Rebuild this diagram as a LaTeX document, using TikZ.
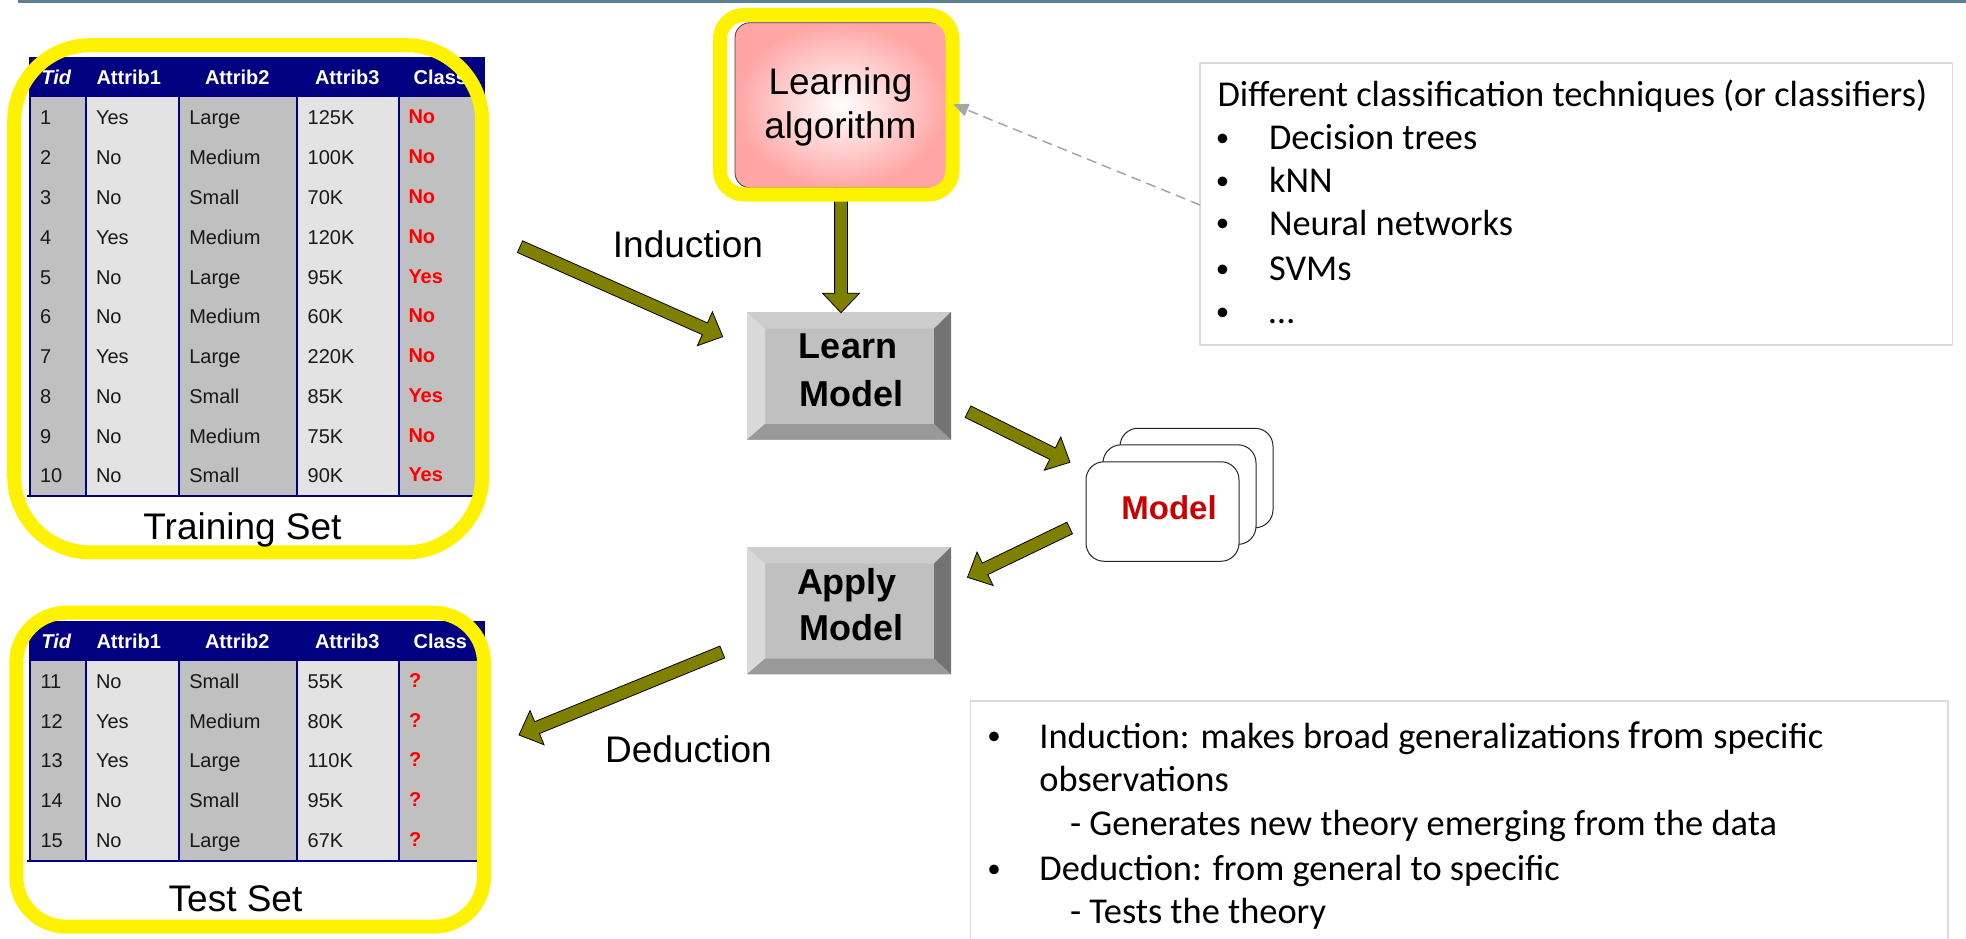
\documentclass[tikz,border=0pt]{standalone}
\usepackage{fontspec}
\setmainfont{Liberation Sans}
\newfontfamily\calib{Carlito}
\usetikzlibrary{calc,arrows.meta}
\definecolor{navyb}{HTML}{000080}
\definecolor{cellg}{HTML}{C0C0C0}
\definecolor{celll}{HTML}{E3E3E3}
\definecolor{olivea}{HTML}{808000}
\definecolor{pinka}{HTML}{FFA5A5}
\definecolor{barb}{HTML}{5B7F95}
\definecolor{frameg}{HTML}{DCDCDC}
\definecolor{dashg}{HTML}{A6A6A6}
\definecolor{redm}{HTML}{CC0000}
\tikzset{
  x=1pt,y=-1pt,
  every node/.style={inner sep=0pt,outer sep=0pt},
  cell/.style={anchor=base west,font=\fontsize{20}{24}\selectfont,text=black!90},
  classcell/.style={anchor=base west,font=\fontsize{20}{24}\selectfont\bfseries,text=red},
  headcell/.style={anchor=base west,font=\fontsize{20}{24}\selectfont\bfseries,text=white},
  bigtext/.style={anchor=base,font=\fontsize{37}{44}\selectfont},
  btntext/.style={anchor=base,font=\fontsize{36}{42}\selectfont\bfseries},
  yframe/.style={draw=yellow,line width=14pt,fill=none},
  btn/.style={fill=cellg},
  stackcard/.style={draw=black!85,fill=white,line width=1pt,rounded corners=18pt,minimum width=153pt,minimum height=99.5pt},
  blockarrow/.style={fill=olivea,draw=black,line width=0.8pt,line join=miter},
  greybox/.style={draw=frameg,fill=white,line width=1.5pt},
  caltext/.style={anchor=base west,font=\calib\fontsize{36.4}{42}\selectfont},
  calbul/.style={anchor=base,font=\calib\fontsize{27}{32}\selectfont},
}
\newcommand\blockarrow[2]{%
  \coordinate (H) at ($(#2)!19.5pt!(#1)$);
  \draw[blockarrow] ($(#1)!6.4pt!90:(#2)$) -- ($(H)!6.4pt!90:(#2)$) -- ($(H)!18.5pt!90:(#2)$) -- (#2)
    -- ($(H)!18.5pt!-90:(#2)$) -- ($(H)!6.4pt!-90:(#2)$) -- ($(#1)!6.4pt!-90:(#2)$) -- cycle;
}
\newcommand\bevel[1]{%
  \path (#1.north west) ++(18,16.7) coordinate (#1i1);
  \path (#1.north east) ++(-17,16.7) coordinate (#1i2);
  \path (#1.south east) ++(-17,-15.7) coordinate (#1i3);
  \path (#1.south west) ++(18,-15.7) coordinate (#1i4);
  \fill[color=black!20!white] (#1.north west) -- (#1.north east) -- (#1i2) -- (#1i1) -- cycle;
  \fill[color=black!15!white] (#1.north west) -- (#1i1) -- (#1i4) -- (#1.south west) -- cycle;
  \fill[color=black!55] (#1.north east) -- (#1.south east) -- (#1i3) -- (#1i2) -- cycle;
  \fill[color=black!40] (#1.south west) -- (#1.south east) -- (#1i3) -- (#1i4) -- cycle;
}
\newcommand\tablebg[3]{% top, header bottom, bottom
  \fill[navyb] (28.5,#1) rectangle (484.5,#2);
  \fill[cellg] (30,#2) rectangle (86,#3);
  \fill[celll] (86,#2) rectangle (179,#3);
  \fill[cellg] (179,#2) rectangle (297,#3);
  \fill[celll] (297,#2) rectangle (399,#3);
  \fill[cellg] (399,#2) rectangle (484,#3);
  \foreach \cx in {30,86,179,297,399}{\draw[navyb,line width=1.7pt] (\cx,#2) -- (\cx,#3);}
  \draw[navyb,line width=1.7pt] (27,#3) -- (484,#3);
}
\newcommand\tablehead[2]{% prefix, baseline
  \node[headcell,font=\fontsize{20}{24}\selectfont\bfseries\itshape] (#1h0) at (41.5,#2) {Tid};
  \node[headcell] (#1h1) at (96.5,#2) {Attrib1};
  \node[headcell] (#1h2) at (205,#2) {Attrib2};
  \node[headcell] (#1h3) at (315,#2) {Attrib3};
  \node[headcell] (#1h4) at (413.7,#2) {Class};
}
\begin{document}
\begin{tikzpicture}
\useasboundingbox (0,0) rectangle (1966,939);
\fill[white] (0,0) rectangle (1966,939);
\fill[barb] (18,0) rectangle (1966,2.6);

% training table
\tablebg{57.3}{97}{496}
\tablehead{tr}{85}
\foreach \t/\a/\b/\c/\k [count=\i from 0] in {1/Yes/Large/125K/No,2/No/Medium/100K/No,3/No/Small/70K/No,4/Yes/Medium/120K/No,5/No/Large/95K/Yes,6/No/Medium/60K/No,7/Yes/Large/220K/No,8/No/Small/85K/Yes,9/No/Medium/75K/No,10/No/Small/90K/Yes}{
  \pgfmathsetmacro\yb{125+39.75*\i}
  \pgfmathsetmacro\yk{124+39.75*\i}
  \node[cell] (tr\i t) at (40,\yb) {\t};
  \node[cell] (tr\i a) at (96,\yb) {\a};
  \node[cell] (tr\i b) at (189.3,\yb) {\b};
  \node[cell] (tr\i c) at (307.7,\yb) {\c};
  \node[classcell] (tr\i k) at (408.5,\yk) {\k};
}
\node[yframe,rounded corners=76pt,minimum width=468pt,minimum height=507.2pt] (trainframe) at (248.2,298.8) {};
\node[bigtext] (trainlabel) at (242.5,539.3) {Training Set};

% test table
\tablebg{621}{660.7}{861}
\tablehead{te}{648.3}
\foreach \t/\a/\b/\c [count=\i from 0] in {11/No/Small/55K,12/Yes/Medium/80K,13/Yes/Large/110K,14/No/Small/95K,15/No/Large/67K}{
  \pgfmathsetmacro\yb{688.3+39.75*\i}
  \pgfmathsetmacro\yk{687.3+39.75*\i}
  \node[cell] (te\i t) at (40.5,\yb) {\t};
  \node[cell] (te\i a) at (96,\yb) {\a};
  \node[cell] (te\i b) at (189.3,\yb) {\b};
  \node[cell] (te\i c) at (307.7,\yb) {\c};
  \node[classcell] (te\i k) at (409,\yk) {?};
}
\node[yframe,rounded corners=50pt,minimum width=467.7pt,minimum height=314pt] (testframe) at (250.15,769.7) {};
\node[bigtext] (testlabel) at (235.5,911) {Test Set};

% buttons
\node[btn,minimum width=204pt,minimum height=127.7pt] (learnm) at (849,375.85) {};
\bevel{learnm}
\node[btntext] (lm1) at (848,358.3) {Learn};
\node[btntext] (lm2) at (851.5,406.7) {Model};
\node[btn,minimum width=204pt,minimum height=127.3pt] (applym) at (849,610.65) {};
\bevel{applym}
\node[btntext] (am1) at (847,594) {Apply};
\node[btntext] (am2) at (851.5,640) {Model};

% arrow from learning algorithm, drawn under the yellow frame
\coordinate (va) at (841,185);
\coordinate (vb) at (841,312.7);
\blockarrow{va}{vb}

% learning algorithm
\node[draw=black!75,line width=0.8pt,rounded corners=15pt,inner color=white,outer color=pinka,minimum width=211.7pt,minimum height=165pt] (algo) at (840.85,105.2) {};
\node[yframe,rounded corners=24pt,minimum width=232.5pt,minimum height=179.5pt] (algoframe) at (836.25,104.75) {};
\node[bigtext] (al1) at (840.5,95) {Learning};
\node[bigtext] (al2) at (840.5,138.3) {algorithm};

% model stack
\node[stackcard] (s3) at (1196.5,478) {};
\node[stackcard] (s2) at (1179.5,494.6) {};
\node[stackcard] (s1) at (1162.5,511.5) {};
\node[anchor=base,font=\fontsize{33}{40}\selectfont\bfseries,text=redm] (modeltxt) at (1169,519.3) {Model};

% block arrows
\coordinate (ia) at (520,246.7); \coordinate (ib) at (722.7,336.7);
\blockarrow{ia}{ib}
\coordinate (ma) at (968,411.7); \coordinate (mb) at (1070,462.3);
\blockarrow{ma}{mb}
\coordinate (na) at (1069.7,528); \coordinate (nb) at (967.5,577.3);
\blockarrow{na}{nb}
\coordinate (da) at (722.3,652); \coordinate (db) at (519,735);
\blockarrow{da}{db}

\node[bigtext] (ind) at (688,257.3) {Induction};
\node[bigtext] (ded) at (688.5,762.7) {Deduction};

% classifier box
\node[greybox,minimum width=752.5pt,minimum height=282pt] (clbox) at (1576.25,204) {};
\coordinate (dstart) at (1200,205);
\coordinate (dend) at (953.3,104.3);
\draw[dashg,line width=1.5pt,dash pattern=on 10pt off 6pt,-{Triangle[length=15pt,width=13pt]}] (dstart) -- (dend);
\node[caltext] (cl0) at (1217.6,106.7) {Different classification techniques (or classifiers)};
\foreach \yy/\by/\tx [count=\i] in {149.3/146.3/Decision trees,192.3/189.3/kNN,235/231/Neural networks,280/277/SVMs,323/320/…}{
  \node[calbul] (clb\i) at (1222.6,\by) {•};
  \node[caltext] (clt\i) at (1269,\yy) {\tx};
}

% induction / deduction box
\node[greybox,minimum width=977.3pt,minimum height=260pt] (ndbox) at (1459.35,831) {};
\node[calbul] (ndb1) at (994,744.5) {•};
\node[caltext] (nd1) at (1039.4,748.3) {Induction: makes broad generalizations {\fontsize{39}{42}\selectfont from} specific};
\node[caltext] (nd2) at (1039.4,791.7) {observations};
\node[caltext] (nd3) at (1070,835) {- Generates new theory emerging from the data};
\node[calbul] (ndb2) at (994,877) {•};
\node[caltext] (nd4) at (1039.4,880) {Deduction: from general to specific};
\node[caltext] (nd5) at (1070,923.3) {- Tests the theory};
\end{tikzpicture}
\end{document}
